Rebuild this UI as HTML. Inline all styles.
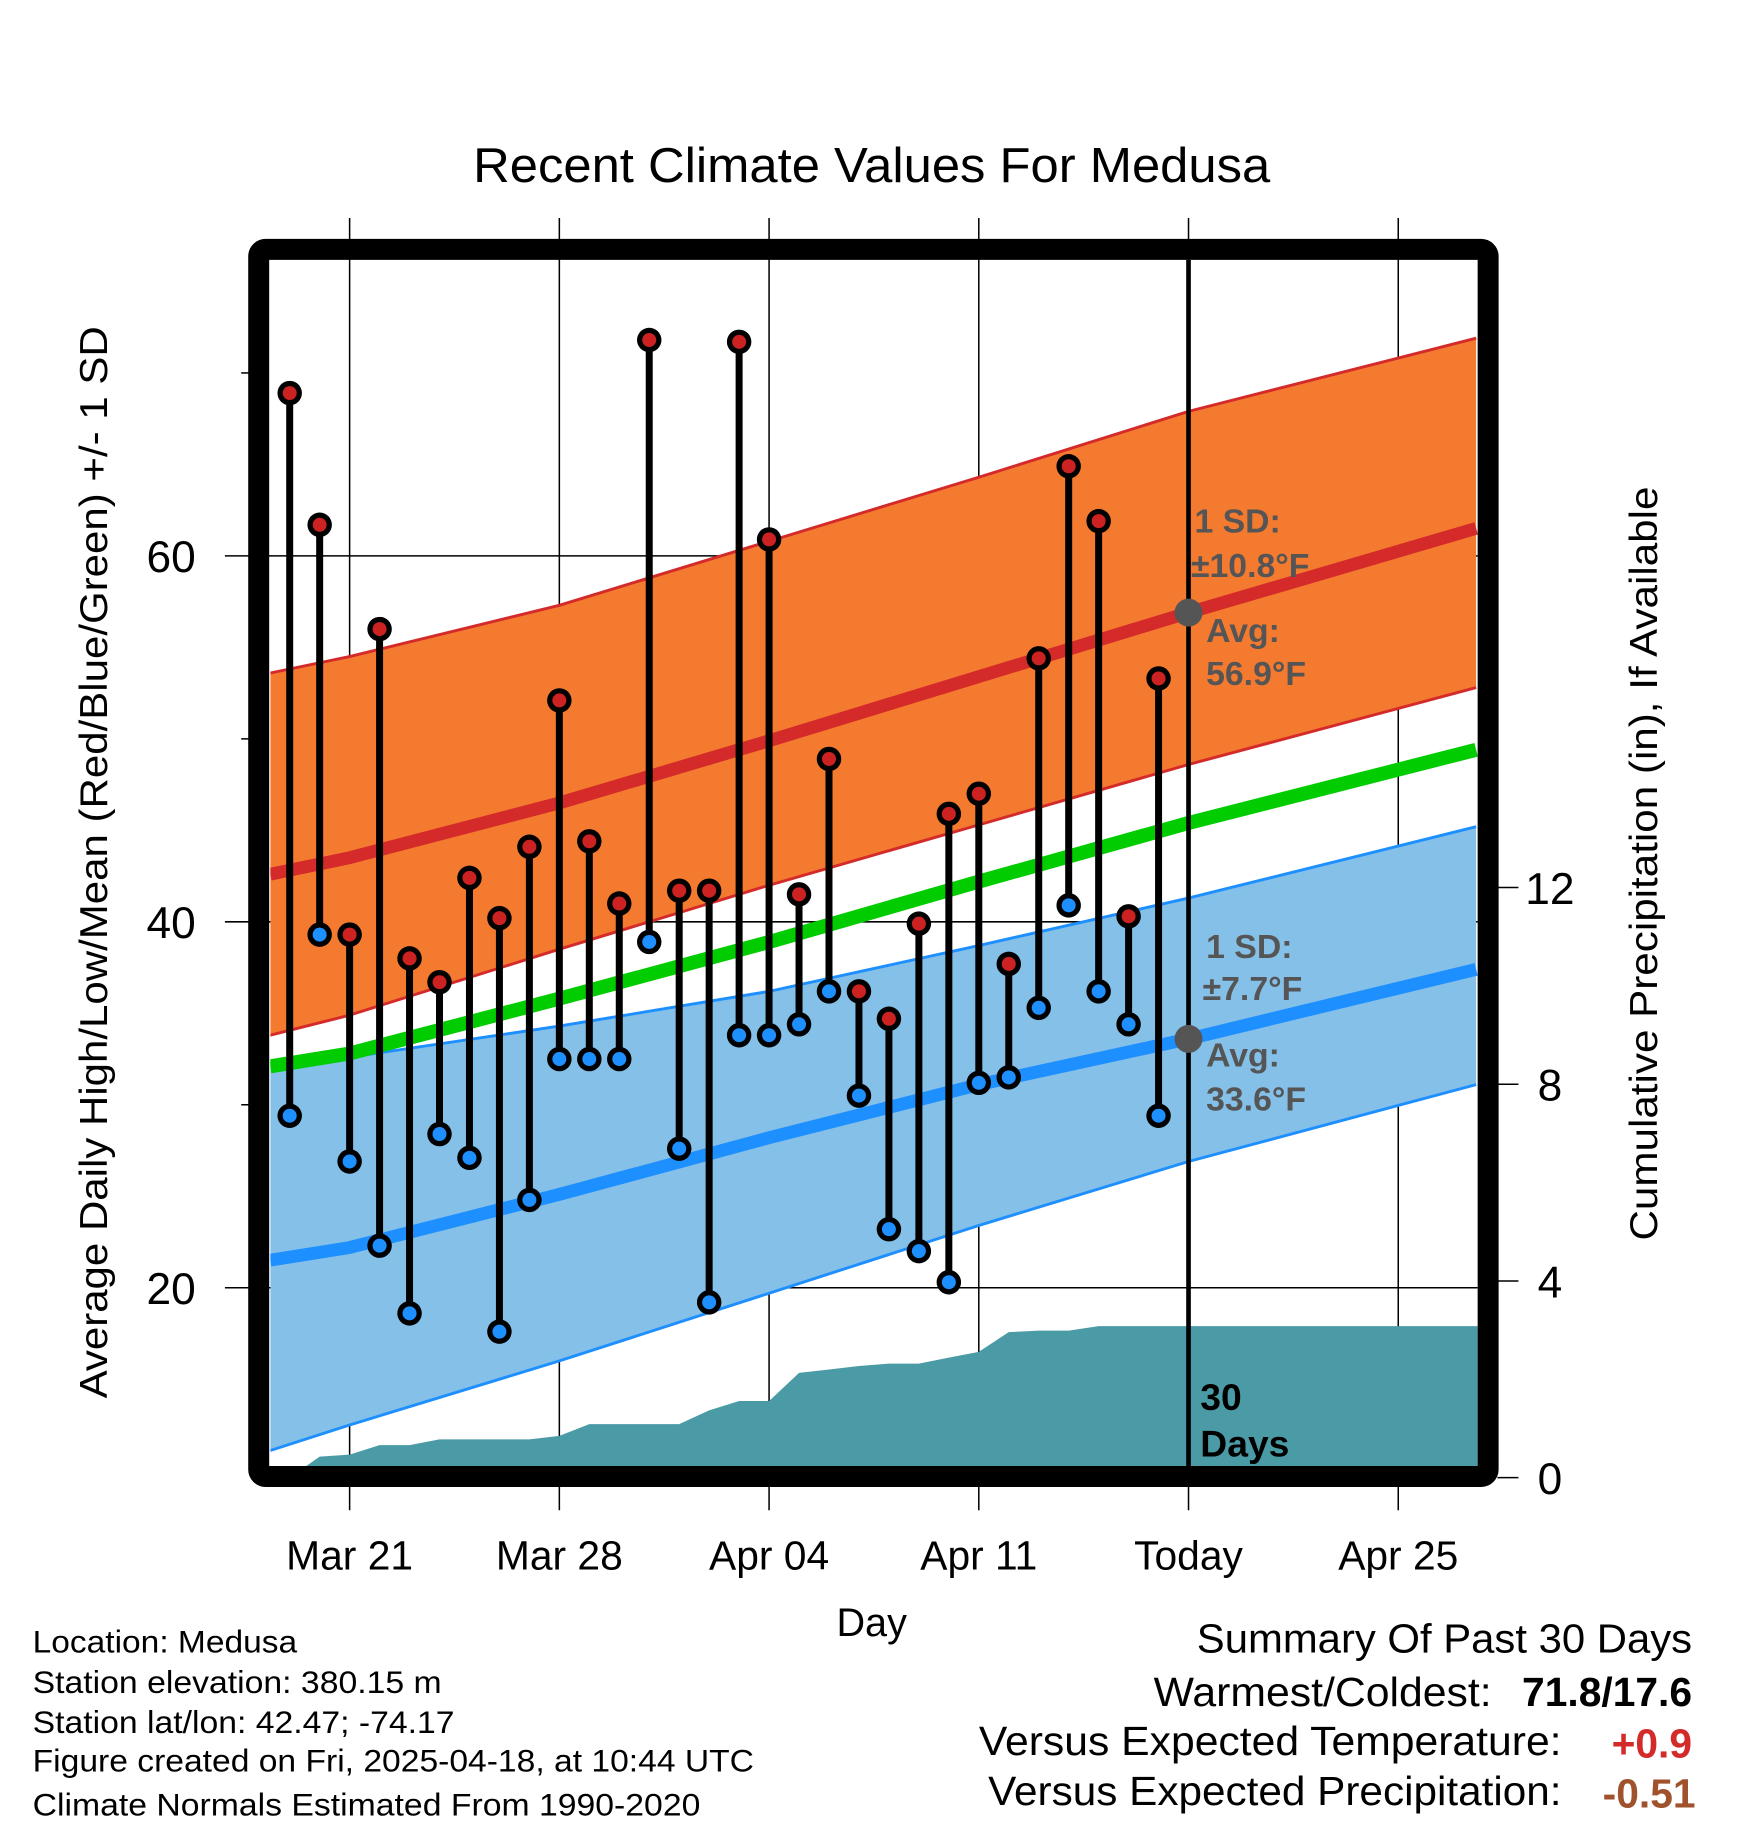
<!DOCTYPE html>
<html><head><meta charset="utf-8"><style>
html,body{margin:0;padding:0;background:#fff}
svg{display:block}
text{font-family:"Liberation Sans",sans-serif}
</style></head><body>
<svg id="chart" width="1748" height="1828" viewBox="0 0 1500 1568.6" xmlns="http://www.w3.org/2000/svg">
<text x="748" y="156" font-size="42" text-anchor="middle" textLength="684" lengthAdjust="spacingAndGlyphs">Recent Climate Values For Medusa</text>
<g id="plot"></g>
<text transform="translate(92,740) rotate(-90)" font-size="33" text-anchor="middle" textLength="920" lengthAdjust="spacingAndGlyphs">Average Daily High/Low/Mean (Red/Blue/Green) +/- 1 SD</text>
<text transform="translate(1422,741) rotate(-90)" font-size="33" text-anchor="middle" textLength="647" lengthAdjust="spacingAndGlyphs">Cumulative Precipitation (in), If Available</text>
<text x="748" y="1404" font-size="34" text-anchor="middle">Day</text>
<g font-size="27" lengthAdjust="spacingAndGlyphs">
<text x="28" y="1418" textLength="227" lengthAdjust="spacingAndGlyphs">Location: Medusa</text>
<text x="28" y="1453" textLength="351" lengthAdjust="spacingAndGlyphs">Station elevation: 380.15 m</text>
<text x="28" y="1487" textLength="362" lengthAdjust="spacingAndGlyphs">Station lat/lon: 42.47; -74.17</text>
<text x="28" y="1520" textLength="619" lengthAdjust="spacingAndGlyphs">Figure created on Fri, 2025-04-18, at 10:44 UTC</text>
<text x="28" y="1558" textLength="573" lengthAdjust="spacingAndGlyphs">Climate Normals Estimated From 1990-2020</text>
</g>
<g font-size="35" text-anchor="end">
<text x="1452" y="1418" textLength="425" lengthAdjust="spacingAndGlyphs">Summary Of Past 30 Days</text>
<text x="1280" y="1464" textLength="290" lengthAdjust="spacingAndGlyphs">Warmest/Coldest:</text>
<text x="1452" y="1464" font-weight="bold">71.8/17.6</text>
<text x="1340" y="1506" textLength="500" lengthAdjust="spacingAndGlyphs">Versus Expected Temperature:</text>
<text x="1452" y="1508" font-weight="bold" fill="#d42a2a">+0.9</text>
<text x="1340" y="1549" textLength="492" lengthAdjust="spacingAndGlyphs">Versus Expected Precipitation:</text>
<text x="1455" y="1551" font-weight="bold" fill="#a0522d">-0.51</text>
</g>
</svg>
<script>
const highs=[68.9,61.7,39.3,56.0,38.0,36.7,42.4,40.2,44.1,52.1,44.4,41.0,71.8,41.7,41.7,71.7,60.9,41.5,48.9,36.2,34.7,39.9,45.9,47.0,37.7,54.4,64.9,61.9,40.3,53.3];
const lows=[29.4,39.3,26.9,22.3,18.6,28.4,27.1,17.6,24.8,32.5,32.5,32.5,38.9,27.6,19.2,33.8,33.8,34.4,36.2,30.5,23.2,22.0,20.3,31.2,31.5,35.3,40.9,36.2,34.4,29.4];
const precip=[0,0.43,0.47,0.66,0.66,0.78,0.78,0.78,0.78,0.85,1.09,1.09,1.09,1.09,1.37,1.56,1.56,2.13,2.2,2.27,2.32,2.32,2.44,2.56,2.96,2.99,2.99,3.08,3.08,3.08];
const normDays=[-0.65,2,9,16,23,30,39.6];
const highUpper=[53.6,54.5,57.3,60.8,64.3,67.9,71.9];
const highMean=[42.6,43.5,46.5,49.9,53.4,56.9,61.5];
const highLower=[33.8,34.9,38.5,42.0,45.3,48.6,52.8];
const meanNorm=[32.1,32.8,35.8,38.9,42.2,45.4,49.4];
const lowUpper=[32.3,32.6,34.3,36.2,38.7,41.3,45.2];
const lowMean=[21.5,22.2,25.1,28.2,31.1,33.6,37.4];
const lowLower=[11.1,12.5,16.0,19.7,23.4,26.9,31.1];
const xTickDays=[2,9,16,23,30,37];
const xTickLabels=["Mar 21","Mar 28","Apr 04","Apr 11","Today","Apr 25"];
const yTicks=[20,40,60];
const yMinor=[30,50,70];
const pTicks=[0,4,8,12];

const X=d=>248.6+d*25.71;
const Y=t=>477+(60-t)*15.7;
const P=p=>1268-p*42.2;
const L=232,R=1268,T=223,B=1258;
const NS="http://www.w3.org/2000/svg";
const g=document.getElementById('plot');
function mk(tag,attrs){const e=document.createElementNS(NS,tag);for(const k in attrs)e.setAttribute(k,attrs[k]);g.appendChild(e);return e;}
const defs=document.createElementNS(NS,'defs');g.appendChild(defs);
const cp=document.createElementNS(NS,'clipPath');cp.setAttribute('id','clip');defs.appendChild(cp);
const cr=document.createElementNS(NS,'rect');cr.setAttribute('x',L);cr.setAttribute('y',T);cr.setAttribute('width',R-L);cr.setAttribute('height',B-T);cp.appendChild(cr);
function line(arr){return normDays.map((d,i)=>X(d).toFixed(1)+','+Y(arr[i]).toFixed(1)).join(' ');}
function band(up,lo){return line(up)+' '+normDays.map((d,i)=>X(d).toFixed(1)+','+Y(lo[i]).toFixed(1)).reverse().join(' ');}
xTickDays.forEach((d,i)=>{
 const l=mk('line',{x1:X(d),x2:X(d),y1:187,y2:1296,stroke:'#000','stroke-width':1.3});
 
 const t=mk('text',{x:X(d),y:1347,'font-size':35,'text-anchor':'middle'});t.textContent=xTickLabels[i];
 
});
yTicks.forEach(v=>{
 const l=mk('line',{x1:193,x2:R,y1:Y(v),y2:Y(v),stroke:'#000','stroke-width':1.3});
 
 const t=mk('text',{x:168,y:Y(v)+14,'font-size':38,'text-anchor':'end'});t.textContent=v;
 
});
yMinor.forEach(v=>{const l=mk('line',{x1:207,x2:220,y1:Y(v),y2:Y(v),stroke:'#000','stroke-width':1.3});
 });
pTicks.forEach(v=>{
 const l=mk('line',{x1:1285,x2:1303,y1:P(v),y2:P(v),stroke:'#000','stroke-width':1.3});
 
 const t=mk('text',{x:1330,y:P(v)+14,'font-size':38,'text-anchor':'middle'});t.textContent=v;
 
});
const cg=document.createElementNS(NS,'g');cg.setAttribute('clip-path','url(#clip)');
function ck(tag,attrs){const e=document.createElementNS(NS,tag);for(const k in attrs)e.setAttribute(k,attrs[k]);cg.appendChild(e);return e;}
let e;
e=ck('polygon',{points:band(highUpper,highLower),fill:'#f47a30'});
e=ck('polygon',{points:band(lowUpper,lowLower),fill:'#84c0e8'});
[[highUpper,'#d42a2a',2.5,'high-upper-line'],[highLower,'#d42a2a',2.5,'high-lower-line'],[lowUpper,'#1e8fff',2.5,'low-upper-line'],[lowLower,'#1e8fff',2.5,'low-lower-line'],[highMean,'#d42a2a',11,'high-mean-line'],[meanNorm,'#00cc00',12,'mean-line'],[lowMean,'#1e8fff',11,'low-mean-line']].forEach(a=>{
 const l=ck('polyline',{points:line(a[0]),fill:'none',stroke:a[1],'stroke-width':a[2],'stroke-linejoin':'round'});
 
});
let pts=precip.map((p,i)=>X(i).toFixed(1)+','+P(p).toFixed(1));
pts.push(R+','+P(precip[precip.length-1]).toFixed(1));pts.push(R+','+B);pts.push(X(0)+','+B);
e=ck('polygon',{points:pts.join(' '),fill:'#4a9ba5'});
e=ck('line',{x1:X(30),x2:X(30),y1:T,y2:B,stroke:'#000','stroke-width':4});
const ann=[["1 SD:",1025,457],["\u00b110.8\u00b0F",1022,495],["Avg:",1035,551],["56.9\u00b0F",1035,588],["1 SD:",1035,822],["\u00b17.7\u00b0F",1032,858],["Avg:",1035,915],["33.6\u00b0F",1035,953]];
ann.forEach(a=>{const t=ck('text',{x:a[1],y:a[2],'font-size':29,'font-weight':'bold',fill:'#555'});t.textContent=a[0];
 });
let c1=ck('circle',{cx:X(30),cy:Y(56.9),r:12,fill:'#555'});

let c2=ck('circle',{cx:X(30),cy:Y(33.6),r:12,fill:'#555'});

e=ck('text',{x:1030,y:1210,'font-size':32,'font-weight':'bold'});e.textContent='30';
e=ck('text',{x:1030,y:1250,'font-size':32,'font-weight':'bold'});e.textContent='Days';
highs.forEach((h,i)=>{
 const s=ck('line',{x1:X(i),x2:X(i),y1:Y(h),y2:Y(lows[i]),stroke:'#000','stroke-width':6});
 
});
highs.forEach((h,i)=>{
 [[h,'#cc2222','high-point'],[lows[i],'#1e8fff','low-point']].forEach(a=>{
  const o=ck('circle',{cx:X(i),cy:Y(a[0]),r:10.5,fill:'#000'});
  
  const c=ck('circle',{cx:X(i),cy:Y(a[0]),r:6,fill:a[1]});
  
 });
});
g.appendChild(cg);
e=mk('rect',{x:222,y:214,width:1055,height:1053,rx:6,fill:'none',stroke:'#000','stroke-width':18});

</script>
</body></html>
